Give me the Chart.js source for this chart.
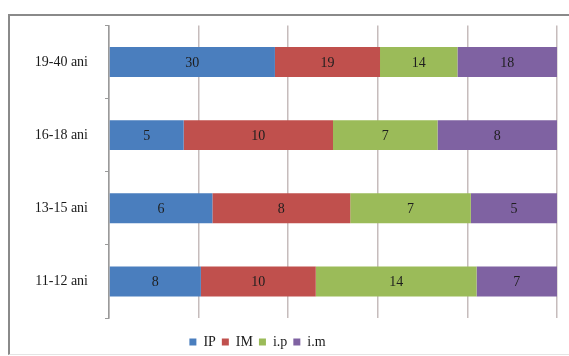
<!DOCTYPE html>
<html>
<head>
<meta charset="utf-8">
<script src="https://cdn.jsdelivr.net/npm/chart.js@4/dist/chart.umd.min.js"></script>
<style>
  html, body { margin: 0; padding: 0; background: #ffffff; }
  #wrap { position: relative; width: 569px; height: 356px; overflow: hidden; }
  #frame { position: absolute; left: 8px; top: 14px; width: 600px; height: 341px;
           border-top: 2px solid #8a8a8a; border-left: 2px solid #8a8a8a; border-bottom: 1px solid #e4e4e4; box-sizing: border-box; }
  #chart { position: absolute; left: 0; top: 0; }
</style>
</head>
<body>
<div id="wrap">
  <div id="frame"></div>
  <canvas id="chart" width="569" height="356"></canvas>
</div>
<script>
// Age groups (top to bottom) and counts per category
const groups = ['19-40 ani', '16-18 ani', '13-15 ani', '11-12 ani'];
const seriesNames = ['IP', 'IM', 'i.p', 'i.m'];
const IP  = [30, 5, 6, 8];
const IM  = [19, 10, 8, 10];
const ip  = [14, 7, 7, 14];
const im  = [18, 8, 5, 7];
const percentTicks = [0, 20, 40, 60, 80, 100];
const colors = ['#4a7ebe', '#c0504d', '#9bbb59', '#7f62a2'];

const counts = [IP, IM, ip, im];
const totals = groups.map((_, i) => counts.reduce((s, arr) => s + arr[i], 0));

// Each segment is drawn as its share of the group total (100% stacked)
const datasets = counts.map((arr, k) => ({
  label: seriesNames[k],
  data: arr.map((v, i) => v / totals[i] * 100),
  rawCounts: arr,
  backgroundColor: colors[k],
  borderWidth: 0,
  barPercentage: 0.82,
  categoryPercentage: 0.5
}));

// Writes the count inside each segment
const segmentLabels = {
  id: 'segmentLabels',
  afterDatasetsDraw(chart) {
    const ctx = chart.ctx;
    ctx.save();
    ctx.font = '14px "Liberation Serif", serif';
    ctx.fillStyle = '#1e1e1e';
    ctx.textAlign = 'center';
    ctx.textBaseline = 'middle';
    chart.data.datasets.forEach((ds, k) => {
      const meta = chart.getDatasetMeta(k);
      meta.data.forEach((bar, i) => {
        const p = bar.getProps(['x', 'base', 'y'], true);
        ctx.fillText(String(ds.rawCounts[i]), (p.x + p.base) / 2, p.y + 1);
      });
    });
    ctx.restore();
  }
};

// Places the legend row a little lower and left of the default spot
const legendOffset = {
  id: 'legendOffset',
  afterLayout(chart) {
    const lg = chart.legend;
    if (!lg) return;
    lg.left -= 26; lg.right -= 26;
    lg.top += 11; lg.bottom += 11;
  }
};

new Chart(document.getElementById('chart'), {
  type: 'bar',
  data: { labels: groups, datasets },
  options: {
    indexAxis: 'y',
    responsive: false,
    animation: false,
    layout: { padding: { left: 10, right: 12, top: 24, bottom: 8 } },
    scales: {
      x: {
        stacked: true,
        min: 0, max: 100,
        afterBuildTicks(scale) { scale.ticks = percentTicks.map(v => ({ value: v })); },
        ticks: { display: false },
        grid: { color: '#c6bcbc', lineWidth: 1.5, drawTicks: false },
        border: { display: false }
      },
      y: {
        stacked: true,
        afterFit(scale) { scale.width = 99; },
        ticks: {
          color: '#1a1a1a',
          font: { family: '"Liberation Serif", serif', size: 14 },
          padding: 17
        },
        grid: { drawOnChartArea: false, drawTicks: true, tickLength: 4, color: '#9a9a9a' },
        border: { display: true, color: '#9a9a9a', width: 1.5 }
      }
    },
    plugins: {
      legend: {
        position: 'bottom',
        labels: {
          boxWidth: 7, boxHeight: 7, padding: 6,
          color: '#1a1a1a',
          font: { family: '"Liberation Serif", serif', size: 14 }
        }
      },
      tooltip: { enabled: false }
    }
  },
  plugins: [segmentLabels, legendOffset]
});
</script>
</body>
</html>
